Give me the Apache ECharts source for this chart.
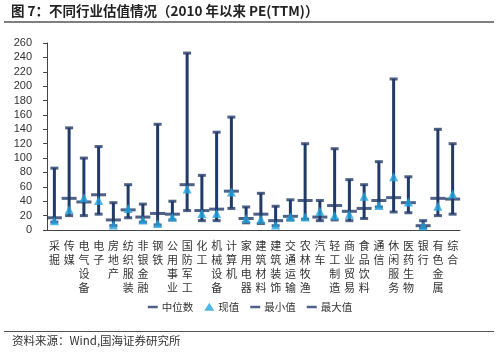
<!DOCTYPE html>
<html>
<head>
<meta charset="utf-8">
<script src="https://cdn.jsdelivr.net/npm/echarts@6/dist/echarts.min.js"></script>
<style>
  html, body { margin: 0; padding: 0; background: #fff; }
  #chart { width: 500px; height: 352px; }
</style>
</head>
<body>
<div id="chart"></div>
<script>
// 行业
const categories = ['采掘', '传媒', '电气设备', '电子', '房地产', '纺织服装', '非银金融', '钢铁', '公用事业', '国防军工',
  '化工', '机械设备', '计算机', '家用电器', '建筑材料', '建筑装饰', '交通运输', '农林牧渔', '汽车', '轻工制造',
  '商业贸易', '食品饮料', '通信', '休闲服务', '医药生物', '银行', '有色金属', '综合']
// PE(TTM) 统计
const maxVals = [86, 142, 100, 116, 38, 63, 36, 147, 40, 246, 76, 136, 157, 32, 51, 33, 42, 120, 41, 113, 70, 63, 95, 210, 74, 13, 140, 120]
const minVals = [11, 20, 20, 22, 6, 17, 11, 7, 14, 27, 13, 13, 30, 10, 9, 6, 14, 15, 13, 14, 13, 16, 32, 25, 24, 3, 20, 22]
const medianVals = [17, 44, 39, 49, 14, 28, 18, 23, 22, 63, 27, 29, 54, 16, 22, 13, 19, 41, 18, 34, 26, 30, 41, 45, 38, 6, 44, 43]
const currentVals = [13, 28, 45, 41, 7, 30, 14, 9, 18, 57, 23, 23, 53, 16, 15, 7, 18, 18, 26, 20, 22, 47, 34, 74, 39, 6, 33, 50]
const yTicks = { min: 0, max: 260, interval: 20 }

const navy = '#223a68'
const blue = '#22a4df'
const dashIcon = 'path://M0,0M0,3L10,3L10,5.5L0,5.5ZM10,8'
const font = '"Noto Sans CJK SC", "Liberation Sans", sans-serif'

const chart = echarts.init(document.getElementById('chart'))
chart.setOption({
  animation: false,
  textStyle: { fontFamily: font },
  grid: { left: 47, right: 40, top: 43, bottom: 122 },
  graphic: [
    { type: 'text', left: 11, top: 4, style: { text: '图 7：不同行业估值情况（2010 年以来 PE(TTM)）', font: 'bold 13.5px ' + font, fill: '#222' } },
    { type: 'line', shape: { x1: 4, y1: 22, x2: 494, y2: 22 }, style: { stroke: '#555', lineWidth: 1.5 } },
    { type: 'line', shape: { x1: 4, y1: 331.5, x2: 494, y2: 331.5 }, style: { stroke: '#555', lineWidth: 1.2 } },
    { type: 'text', left: 12, top: 335, style: { text: '资料来源：Wind,国海证券研究所', font: '11.5px ' + font, fill: '#333' } }
  ],
  legend: {
    bottom: 35,
    left: 'center',
    itemWidth: 10,
    itemHeight: 8,
    itemGap: 11,
    textStyle: { fontSize: 10.5, color: '#333', padding: [0, 0, 0, -1] },
    data: [
      { name: '中位数', icon: dashIcon },
      { name: '现值', icon: 'triangle' },
      { name: '最小值', icon: dashIcon },
      { name: '最大值', icon: dashIcon }
    ]
  },
  xAxis: {
    type: 'category',
    data: categories,
    axisLine: { lineStyle: { color: '#444', width: 1 } },
    axisTick: { length: 3, lineStyle: { color: '#444' } },
    axisLabel: {
      interval: 0,
      margin: 9,
      fontSize: 11,
      lineHeight: 14,
      color: '#333',
      verticalAlign: 'top',
      formatter: v => v.split('').join('\n')
    }
  },
  yAxis: {
    type: 'value',
    min: yTicks.min,
    max: yTicks.max,
    interval: yTicks.interval,
    axisLine: { show: true, lineStyle: { color: '#444', width: 1 } },
    axisTick: { show: true, length: 4, lineStyle: { color: '#444' } },
    axisLabel: { fontSize: 11, color: '#333', margin: 15, fontFamily: '"Liberation Sans", Arial, sans-serif' },
    splitLine: { show: false }
  },
  series: [
    {
      name: 'base', type: 'bar', stack: 'range', barWidth: 3, silent: true,
      itemStyle: { color: 'transparent' },
      data: minVals
    },
    {
      name: 'range', type: 'bar', stack: 'range', barWidth: 3, silent: true,
      itemStyle: { color: navy },
      data: maxVals.map((v, i) => v - minVals[i])
    },
    {
      name: '最小值', type: 'scatter', symbol: 'rect', symbolSize: [8, 3], z: 3,
      itemStyle: { color: navy },
      data: minVals
    },
    {
      name: '最大值', type: 'scatter', symbol: 'rect', symbolSize: [8, 3], z: 3,
      itemStyle: { color: navy },
      data: maxVals
    },
    {
      name: '中位数', type: 'scatter', symbol: 'rect', symbolSize: [15, 3], z: 4,
      itemStyle: { color: navy },
      data: medianVals
    },
    {
      name: '现值', type: 'scatter', symbol: 'triangle', symbolSize: [9, 9], z: 5,
      itemStyle: { color: blue },
      data: currentVals
    }
  ]
})
</script>
</body>
</html>
